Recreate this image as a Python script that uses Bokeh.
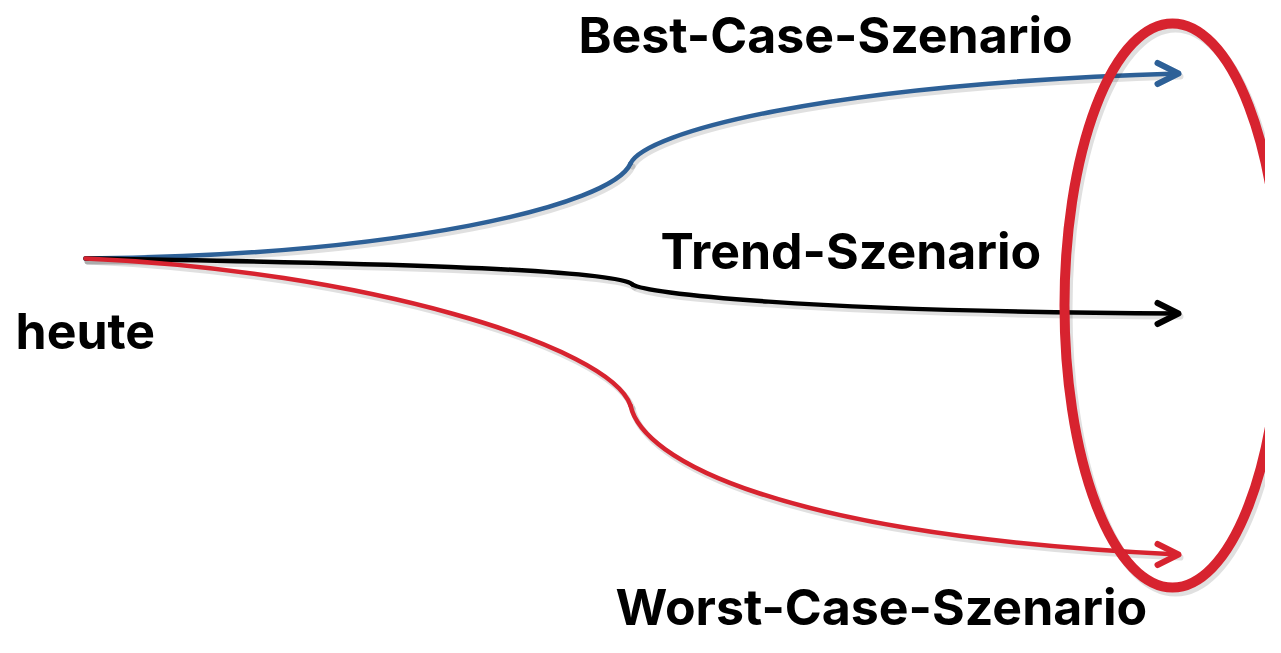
from bokeh.plotting import figure
from bokeh.models import Range1d, Arrow, OpenHead
from bokeh.core.properties import value
from bokeh.embed import file_html
from bokeh.resources import INLINE

# Scenario curves as cubic Bezier segments (start, control1, control2, end)
names = ["Best-Case-Szenario", "Trend-Szenario", "Worst-Case-Szenario"]
colors = ["#2d6097", "#000000", "#d7232f"]

seg_x0 = [[85, 630], [85, 632], [85, 630]]
seg_y0 = [[258, 163], [258, 284], [258, 405]]
seg_cx0 = [[400, 645], [350, 645], [360, 642]]
seg_cy0 = [[255, 132], [262, 293], [270, 460]]
seg_cx1 = [[612, 820], [612, 800], [610, 780]]
seg_cy1 = [[205, 84], [268, 311], [345, 535]]
seg_x1 = [[630, 1178], [632, 1178], [630, 1178]]
seg_y1 = [[163, 73], [284, 313], [405, 554]]

# arrow tips
tip_x = [1178, 1178, 1178]
tip_y = [73, 313, 554]

# labels
label_text = ["Best-Case-Szenario", "Trend-Szenario", "Worst-Case-Szenario", "heute"]
label_x = [578, 660, 615, 15]
label_y = [34, 250, 606, 330]

# highlight ellipse
ell_x, ell_y, ell_w, ell_h = 1172, 305, 216, 564

W, H = 1265, 637
p = figure(width=W, height=H, output_backend="svg", toolbar_location=None,
           x_range=Range1d(0, W), y_range=Range1d(H, 0),
           min_border=0)
p.axis.visible = False
p.grid.visible = False
p.outline_line_color = None
p.background_fill_color = "white"

# shadows
for i in range(3):
    p.bezier(x0=[v + 2 for v in seg_x0[i]], y0=[v + 3 for v in seg_y0[i]],
             x1=[v + 2 for v in seg_x1[i]], y1=[v + 3 for v in seg_y1[i]],
             cx0=[v + 2 for v in seg_cx0[i]], cy0=[v + 3 for v in seg_cy0[i]],
             cx1=[v + 2 for v in seg_cx1[i]], cy1=[v + 3 for v in seg_cy1[i]],
             line_color="#000000", line_alpha=0.12, line_width=6, line_cap="round")

for i in range(3):
    p.bezier(x0=seg_x0[i], y0=seg_y0[i], x1=seg_x1[i], y1=seg_y1[i],
             cx0=seg_cx0[i], cy0=seg_cy0[i], cx1=seg_cx1[i], cy1=seg_cy1[i],
             line_color=colors[i], line_width=4.5, line_cap="round")
    p.add_layout(Arrow(end=OpenHead(size=21, line_color=colors[i], line_width=6,
                                    line_cap="round", line_join="round"),
                       x_start=tip_x[i] - 30, y_start=tip_y[i],
                       x_end=tip_x[i], y_end=tip_y[i],
                       line_alpha=0))

# ellipse shadow + ellipse
p.ellipse(x=[ell_x + 3], y=[ell_y + 4], width=[ell_w], height=[ell_h],
          fill_color=None, line_color="#000000", line_alpha=0.12, line_width=10)
p.ellipse(x=[ell_x], y=[ell_y], width=[ell_w], height=[ell_h],
          fill_color=None, line_color="#d7232f", line_width=10)

p.text(x=label_x, y=label_y, text=label_text,
       text_font=value("Inter"), text_font_size="50px", text_font_style="bold",
       text_color="#000000", text_baseline="alphabetic", text_align="left")

open("out.html", "w").write(file_html(p, INLINE))
